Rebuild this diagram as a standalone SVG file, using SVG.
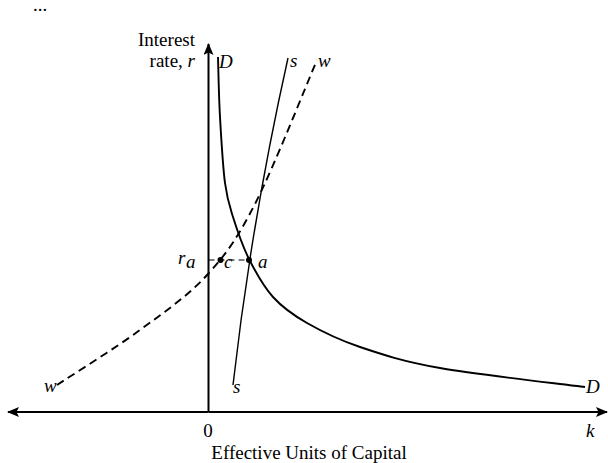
<svg xmlns="http://www.w3.org/2000/svg" width="608" height="463" viewBox="0 0 608 463">
<style>
text{font-family:"Liberation Serif","Times New Roman",serif;font-size:19px;fill:#000}
.i{font-style:italic}
.curve{fill:none;stroke:#000;stroke-width:1.9;stroke-linecap:butt}
.axis{fill:none;stroke:#000;stroke-width:2}
</style>
<defs>
<marker id="arr" viewBox="0 0 12 10" refX="11" refY="5" markerWidth="12" markerHeight="10" markerUnits="userSpaceOnUse" orient="auto">
<path d="M0,0 L12,5 L0,10 L2.5,5 Z" fill="#000"/>
</marker>
</defs>
<rect width="608" height="463" fill="#fff"/>
<text x="33" y="11" font-size="12">...</text>
<g id="axes">
<line class="axis" x1="208.5" y1="412" x2="208.5" y2="44" marker-end="url(#arr)"/>
<line class="axis" x1="208.5" y1="412" x2="607" y2="412" marker-end="url(#arr)"/>
<line class="axis" x1="208.5" y1="412" x2="8" y2="412" marker-end="url(#arr)"/>
</g>
<g id="connectors">
<path id="D-curve" class="curve" d="M218,57 C218.3,67 218.8,96 220,117 C221.2,138 222.8,166.3 225,183 C227.2,199.7 229,204.3 233,217 C237,229.7 242.3,245.7 249,259 C255.7,272.3 263.3,286.3 273,297 C282.7,307.7 292.5,314.7 307,323 C321.5,331.3 337.8,339.5 360,347 C382.2,354.5 402.5,361.3 440,368 C477.5,374.7 560.8,383.8 585,387"/>
<path id="s-curve" fill="none" stroke="#000" stroke-width="1.4" d="M288,58 Q251.5,221.5 233,385"/>
<path id="w-curve" class="curve" stroke-dasharray="8,5" d="M57,385 C70.8,375.8 114.8,348.5 140,330 C165.2,311.5 188.7,295.3 208,274 C227.3,252.7 237.8,237.7 256,202 C274.2,166.3 306.8,83.7 317,60"/>
<line id="ra-line" x1="208.5" y1="260" x2="249" y2="260" stroke="#000" stroke-width="1" stroke-dasharray="6,4"/>
</g>
<g id="point-c"><circle cx="220.5" cy="260" r="3" fill="#000"/><text class="i" x="224" y="268">c</text></g>
<g id="point-a"><circle cx="249" cy="260" r="3" fill="#000"/><text class="i" x="258" y="268">a</text></g>
<g id="labels">
<text x="195" y="46" text-anchor="end">Interest</text>
<text x="195" y="67" text-anchor="end">rate, <tspan class="i">r</tspan></text>
<text class="i" x="219" y="68">D</text>
<text class="i" x="290" y="67">s</text>
<text class="i" x="318" y="67">w</text>
<text class="i" x="178" y="264">r</text>
<text class="i" x="186" y="268" font-size="13">a</text>
<text class="i" x="44" y="392">w</text>
<text class="i" x="233" y="393">s</text>
<text class="i" x="586" y="393">D</text>
<text x="208" y="437" text-anchor="middle">0</text>
<text class="i" x="586" y="437">k</text>
<text x="309" y="459" text-anchor="middle">Effective Units of Capital</text>
</g>
</svg>
